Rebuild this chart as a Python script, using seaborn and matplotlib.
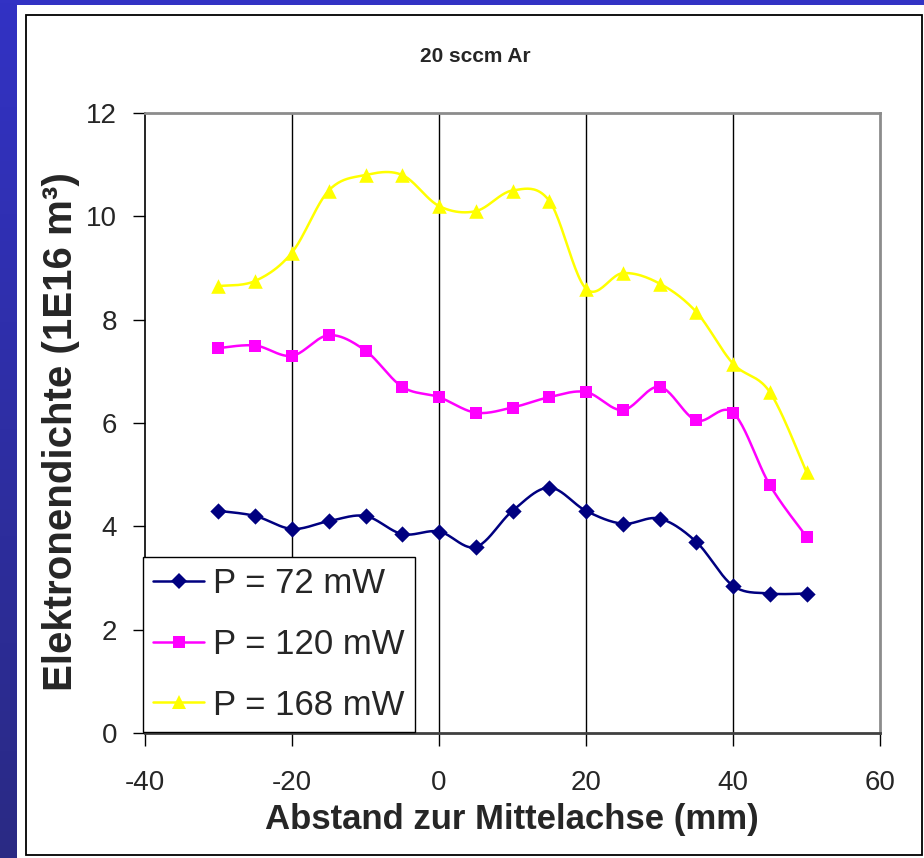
import numpy as np
import pandas as pd
import matplotlib
matplotlib.use("Agg")
import matplotlib.pyplot as plt
from matplotlib.lines import Line2D
from matplotlib.patches import Rectangle
import seaborn as sns

# Measured electron density vs. distance from the central axis
abstand_mm = [-30, -25, -20, -15, -10, -5, 0, 5, 10, 15, 20, 25, 30, 35, 40, 45, 50]
dichte_72mw = [4.3, 4.2, 3.95, 4.1, 4.2, 3.85, 3.9, 3.6, 4.3, 4.75, 4.3, 4.05, 4.15, 3.7, 2.85, 2.7, 2.7]
dichte_120mw = [7.45, 7.5, 7.3, 7.7, 7.4, 6.7, 6.5, 6.2, 6.3, 6.5, 6.6, 6.25, 6.7, 6.05, 6.2, 4.8, 3.8]
dichte_168mw = [8.65, 8.75, 9.3, 10.5, 10.8, 10.8, 10.2, 10.1, 10.5, 10.3, 8.6, 8.9, 8.7, 8.15, 7.15, 6.6, 5.05]
serien = ["P = 72 mW", "P = 120 mW", "P = 168 mW"]
x_ticks = [-40, -20, 0, 20, 40, 60]
y_ticks = [0, 2, 4, 6, 8, 10, 12]

farben = {"P = 72 mW": "#000080", "P = 120 mW": "#FF00FF", "P = 168 mW": "#FFFF00"}
marker = {"P = 72 mW": "D", "P = 120 mW": "s", "P = 168 mW": "^"}
msize = {"P = 72 mW": 8.3, "P = 120 mW": 9.3, "P = 168 mW": 10.5}

punkte = pd.DataFrame({
    "x": abstand_mm * 3,
    "y": dichte_72mw + dichte_120mw + dichte_168mw,
    "serie": [s for s in serien for _ in abstand_mm],
})


def glatte_kurve(xs, ys, n=24):
    """Smoothed connecting curve (Catmull-Rom / Bezier segments through the points)."""
    xs = np.asarray(xs, float)
    ys = np.asarray(ys, float)
    px = np.concatenate([[xs[0]], xs, [xs[-1]]])
    py = np.concatenate([[ys[0]], ys, [ys[-1]]])
    outx, outy = [], []
    t = np.linspace(0, 1, n, endpoint=False)
    for i in range(1, len(px) - 2):
        p0 = np.array([px[i], py[i]])
        p3 = np.array([px[i + 1], py[i + 1]])
        c1 = p0 + (np.array([px[i + 1], py[i + 1]]) - np.array([px[i - 1], py[i - 1]])) / 6
        c2 = p3 - (np.array([px[i + 2], py[i + 2]]) - np.array([px[i], py[i]])) / 6
        b = ((1 - t) ** 3)[:, None] * p0 + (3 * (1 - t) ** 2 * t)[:, None] * c1 \
            + (3 * (1 - t) * t ** 2)[:, None] * c2 + (t ** 3)[:, None] * p3
        outx.extend(b[:, 0])
        outy.extend(b[:, 1])
    outx.append(xs[-1])
    outy.append(ys[-1])
    return outx, outy


sns.set_theme(style="white")
plt.rcParams["font.family"] = ["Liberation Sans", "DejaVu Sans"]

fig = plt.figure(figsize=(9.24, 8.58), dpi=100, facecolor="white")
W, H = 924, 858

# slide background: blue strips along the top and the left edge
fig.patches.append(Rectangle((0, 1 - 5 / H), 1, 5 / H, transform=fig.transFigure,
                             facecolor="#3232C4", edgecolor="none", zorder=-5))
bg = fig.add_axes([0, 0, 17 / W, 1], zorder=-4)
grad = np.linspace(0, 1, 256)[:, None]
top_c = np.array([0x32, 0x32, 0xC4]) / 255
bot_c = np.array([0x2A, 0x2A, 0x84]) / 255
bg.imshow(top_c * (1 - grad[..., None]) + bot_c * grad[..., None], aspect="auto",
          extent=[0, 1, 0, 1])
bg.set_axis_off()

# chart frame
fig.patches.append(Rectangle((26 / W, 1 - 855 / H), (922 - 26) / W, (855 - 15) / H,
                             transform=fig.transFigure, facecolor="none",
                             edgecolor="black", linewidth=1.3, zorder=-3))

ax = fig.add_axes([145 / W, 1 - 733 / H, (880 - 145) / W, (733 - 113) / H])
ax.set_facecolor("white")

for s in serien:
    sub = punkte[punkte["serie"] == s]
    kx, ky = glatte_kurve(sub["x"], sub["y"])
    kurve = pd.DataFrame({"x": kx, "y": ky})
    sns.lineplot(data=kurve, x="x", y="y", sort=False, estimator=None, ax=ax,
                 color=farben[s], linewidth=1.8, zorder=3)
    sns.scatterplot(data=sub, x="x", y="y", ax=ax, marker=marker[s],
                    s=msize[s] ** 2, color=farben[s], linewidth=0, zorder=4)

ax.set_xlim(-40, 60)
ax.set_ylim(0, 12)
ax.set_xticks(x_ticks)
ax.set_yticks(y_ticks)
ax.set_xticklabels([str(v) for v in x_ticks], fontsize=20)
ax.set_yticklabels([str(v) for v in y_ticks], fontsize=20)
ax.tick_params(axis="both", direction="out", length=9, width=1, color="black",
               left=True, bottom=True)
ax.tick_params(axis="x", pad=18)
ax.tick_params(axis="y", pad=11)

for gx in [-20, 0, 20, 40]:
    ax.axvline(gx, color="black", linewidth=1.0, zorder=1)

ax.spines["left"].set_color("black")
ax.spines["left"].set_linewidth(1.2)
ax.spines["bottom"].set_color("#404040")
ax.spines["bottom"].set_linewidth(2.0)
ax.spines["top"].set_color("#8c8c8c")
ax.spines["top"].set_linewidth(2.0)
ax.spines["right"].set_color("#8c8c8c")
ax.spines["right"].set_linewidth(2.0)

ax.set_xlabel("")
ax.set_ylabel("")
fig.text(512 / W, 1 - 820 / H, "Abstand zur Mittelachse (mm)", fontsize=25,
         fontweight="bold", ha="center", va="center")
fig.text(61 / W, 1 - 432 / H, "Elektronendichte (1E16 m³)", fontsize=29,
         fontweight="bold", ha="center", va="center", rotation=90)
fig.text(475 / W, 1 - 57 / H, "20 sccm Ar", fontsize=15, fontweight="bold",
         ha="center", va="center")

handles = [Line2D([0], [0], color=farben[s], marker=marker[s], markersize=msize[s],
                  markeredgewidth=0, linewidth=1.8) for s in serien]
leg = ax.legend(handles, serien, loc="lower left",
                bbox_to_anchor=(143 / W, 1 - 732 / H), bbox_transform=fig.transFigure,
                fontsize=25, frameon=True, fancybox=False, shadow=False,
                framealpha=1, edgecolor="black", borderaxespad=0,
                handlelength=1.45, handletextpad=0.28, labelspacing=0.8,
                borderpad=0.3)
leg.get_frame().set_linewidth(1.0)
leg.set_zorder(6)

fig.savefig("out.png", dpi=100, facecolor="white")
